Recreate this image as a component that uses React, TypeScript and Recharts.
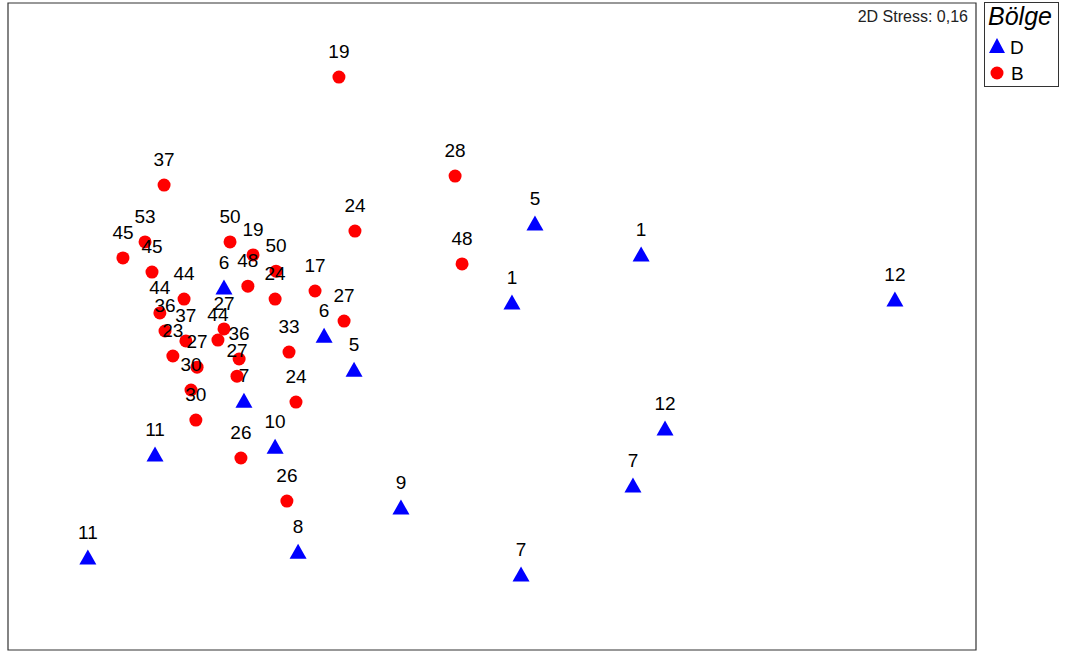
import { ReferenceArea, Scatter, ScatterChart, XAxis, YAxis } from 'recharts'

type Site = {
  x: number
  y: number
  label: string
}

// NMDS coordinates, wave D (triangles)
const dX = [0.142, 0.493, 0.066, 1.332, -0.886, -0.555, -0.456, -0.82, -0.717, -1.114, 0.572, 0.466, -0.301, -0.641, -1.336, 0.096]
const dY = [0.366, 0.263, 0.103, 0.113, 0.153, -0.007, -0.12, -0.223, -0.376, -0.402, -0.316, -0.505, -0.578, -0.725, -0.744, -0.801]
const dLabels = ['5', '1', '1', '12', '6', '6', '5', '7', '10', '11', '12', '7', '9', '8', '11', '7']

// NMDS coordinates, wave B (circles)
const bX = [
  -0.506, -1.084, -0.122, -0.453, -0.099, -1.22, -1.147, -1.124, -0.866, -0.79, -0.714, -0.807, -1.018, -0.717, -0.585, -0.489,
  -1.098, -1.081, -1.012, -1.055, -0.975, -0.995, -0.979, -0.886, -0.906, -0.836, -0.843, -0.671, -0.648, -0.83, -0.678,
]
const bY = [
  0.854, 0.495, 0.525, 0.342, 0.233, 0.253, 0.306, 0.206, 0.306, 0.263, 0.209, 0.159, 0.116, 0.116, 0.143, 0.043,
  0.07, 0.01, -0.023, -0.073, -0.11, -0.186, -0.286, 0.017, -0.02, -0.083, -0.14, -0.06, -0.226, -0.412, -0.555,
]
const bLabels = [
  '19', '37', '28', '24', '48', '45', '53', '45', '50', '19', '50', '48', '44', '24', '17', '27',
  '44', '36', '37', '23', '27', '30', '30', '27', '44', '36', '27', '33', '24', '26', '26',
]

const xDomain: [number, number] = [-1.6, 1.6]
const yDomain: [number, number] = [-1.05, 1.1]
const stressText = '2D Stress: 0,16'
const legendTitle = 'Bölge'

const FONT = '"Liberation Sans", Arial, sans-serif'

const toSites = (xs: number[], ys: number[], labels: string[]): Site[] =>
  xs.map((x, i) => ({ x, y: ys[i], label: labels[i] }))

const dSites = toSites(dX, dY, dLabels)
const bSites = toSites(bX, bY, bLabels)

const Triangle = (props: any) => {
  const { cx, cy } = props
  if (cx == null || cy == null) return null
  return <polygon points={`${cx},${cy - 8.5} ${cx + 8.5},${cy + 6.5} ${cx - 8.5},${cy + 6.5}`} fill="#0000ff" />
}

const Dot = (props: any) => {
  const { cx, cy } = props
  if (cx == null || cy == null) return null
  return <circle cx={cx} cy={cy} r={6.5} fill="#ff0000" />
}

const SiteLabel = (props: any) => {
  const { cx, cy, payload } = props
  if (cx == null || cy == null) return null
  return (
    <text x={cx} y={cy - 19} textAnchor="middle" fontSize={19} fontFamily={FONT} fill="#000">
      {payload.label}
    </text>
  )
}

export default function App() {
  return (
    <div style={{ position: 'absolute', left: 0, top: 0, width: 1067, height: 652, background: '#fff' }}>
      <ScatterChart width={1067} height={652} margin={{ top: 3, left: 8, right: 91, bottom: 2 }}>
        <XAxis type="number" dataKey="x" domain={xDomain} hide allowDataOverflow />
        <YAxis type="number" dataKey="y" domain={yDomain} hide allowDataOverflow />
        <ReferenceArea x1={xDomain[0]} x2={xDomain[1]} y1={yDomain[0]} y2={yDomain[1]} fill="none" stroke="#333" strokeWidth={1.2} />
        <Scatter name="D" data={dSites} shape={Triangle} isAnimationActive={false} />
        <Scatter name="B" data={bSites} shape={Dot} isAnimationActive={false} />
        <Scatter name="D labels" data={dSites} shape={SiteLabel} isAnimationActive={false} legendType="none" />
        <Scatter name="B labels" data={bSites} shape={SiteLabel} isAnimationActive={false} legendType="none" />
      </ScatterChart>

      <div
        style={{
          position: 'absolute',
          right: 1067 - 968,
          top: 8,
          fontFamily: FONT,
          fontSize: 16,
          color: '#222',
          whiteSpace: 'nowrap',
        }}
      >
        {stressText}
      </div>

      <div
        style={{
          position: 'absolute',
          left: 984,
          top: 2,
          width: 73,
          height: 83,
          border: '1px solid #333',
          fontFamily: FONT,
          background: '#fff',
        }}
      >
        <div style={{ position: 'absolute', left: 3, top: -1, fontSize: 25, fontStyle: 'italic', color: '#000' }}>
          {legendTitle}
        </div>
        <svg style={{ position: 'absolute', left: 0, top: 30 }} width={73} height={53}>
          <polygon points="12,5 20,20 4,20" fill="#0000ff" />
          <text x={25} y={21} fontSize={19} fontFamily={FONT} fill="#000">
            D
          </text>
          <circle cx={12} cy={40} r={6.5} fill="#ff0000" />
          <text x={26} y={47} fontSize={19} fontFamily={FONT} fill="#000">
            B
          </text>
        </svg>
      </div>
    </div>
  )
}
